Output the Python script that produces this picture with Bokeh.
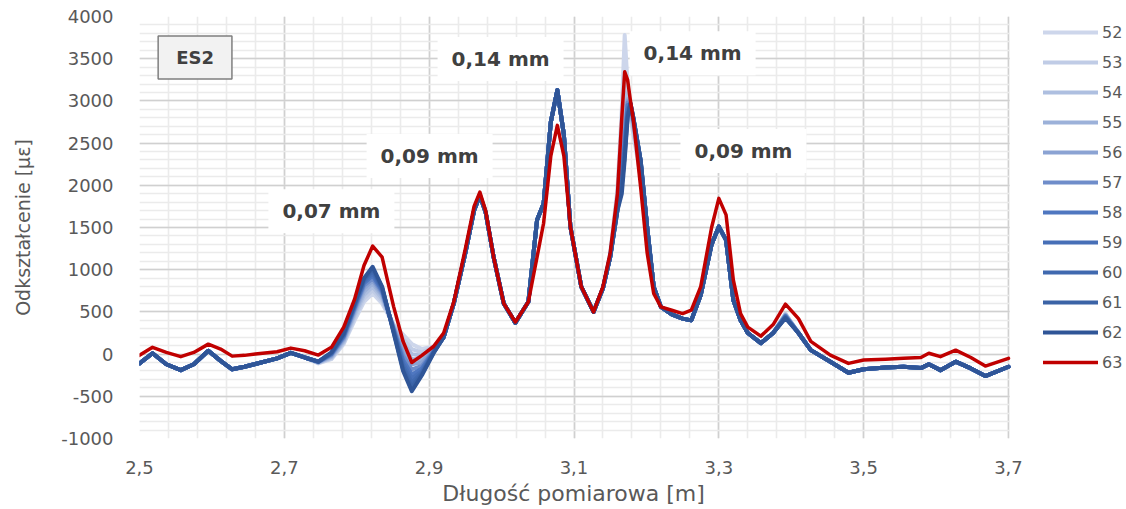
from bokeh.plotting import figure
from bokeh.models import Range1d, FixedTicker, Label, Legend, LegendItem, BoxAnnotation
from bokeh.embed import file_html
from bokeh.resources import INLINE

# measurement position [m]
x = [2.500, 2.518, 2.537, 2.557, 2.575, 2.595, 2.612, 2.628, 2.645, 2.660,
     2.690, 2.709, 2.728, 2.747, 2.765, 2.782, 2.797, 2.810, 2.822, 2.835,
     2.851, 2.864, 2.876, 2.890, 2.906, 2.920, 2.934, 2.950, 2.962, 2.970,
     2.978, 2.989, 3.003, 3.019, 3.037, 3.049, 3.058, 3.068, 3.077, 3.086,
     3.095, 3.110, 3.127, 3.140, 3.150, 3.160, 3.166, 3.170, 3.174, 3.178,
     3.182, 3.192, 3.201, 3.210, 3.220, 3.235, 3.250, 3.262, 3.275, 3.290,
     3.300, 3.310, 3.320, 3.330, 3.340, 3.358, 3.375, 3.392, 3.410, 3.427,
     3.454, 3.479, 3.500, 3.530, 3.555, 3.579, 3.590, 3.606, 3.627, 3.648,
     3.668, 3.700]

# strain [µε] per load step
s52 = [-110, 10, -120, -190, -120, 40, -80, -180, -150, -118, -50, 15, -40,
       -110, -60, 120, 400, 620, 720, 600, 350, 230, 120, 60, 90,
       200, 600, 1200, 1700, 1880, 1680, 1150, 600, 370, 620, 1590, 1780, 2750, 3128, 2600, 1510, 800, 500, 780,
       1200, 1950, 2900, 3780, 3200, 2800, 2600, 2100,
       1510, 800, 560, 470, 420, 400, 700, 1300, 1510, 1350, 640, 400, 250, 130, 250,
       480,
       250, 47, -90, -221, -180, -160, -150, -166, -120, -190, -90, -170, -260, -150]
s53 = [-110, 10, -120, -190, -120, 40, -80, -180, -150, -118, -50, 15, -40,
       -105, -50, 135, 430, 660, 760, 630, 340, 180, 60, 20, 80,
       200, 600, 1200, 1700, 1880, 1680, 1150, 600, 370, 620, 1590, 1780, 2750, 3128, 2600, 1510, 800, 500, 780,
       1180, 1900, 2700, 3300, 3100, 2850, 2650, 2150,
       1510, 800, 560, 470, 420, 400, 700, 1300, 1510, 1350, 640, 400, 250, 130, 250,
       475,
       250, 47, -90, -221, -180, -160, -150, -166, -120, -190, -90, -170, -260, -150]
s54 = [-110, 10, -120, -190, -120, 40, -80, -180, -150, -118, -50, 15, -40,
       -100, -40, 150, 460, 700, 800, 660, 330, 130, 0, -20, 70,
       200, 600, 1200, 1700, 1880, 1680, 1150, 600, 370, 620, 1590, 1780, 2750, 3128, 2600, 1510, 800, 500, 780,
       1170, 1850, 2500, 3100, 3050, 2880, 2700, 2200,
       1510, 800, 560, 470, 420, 400, 700, 1300, 1510, 1350, 640, 400, 250, 130, 250,
       470,
       250, 47, -90, -221, -180, -160, -150, -166, -120, -190, -90, -170, -260, -150]
s55 = [-110, 10, -120, -190, -120, 40, -80, -180, -150, -118, -50, 15, -40,
       -100, -30, 165, 490, 740, 840, 690, 320, 80, -60, -60, 60,
       200, 600, 1200, 1700, 1880, 1680, 1150, 600, 370, 620, 1590, 1780, 2750, 3128, 2600, 1510, 800, 500, 780,
       1160, 1800, 2350, 2900, 3020, 2900, 2720, 2230,
       1510, 800, 560, 470, 420, 400, 700, 1300, 1510, 1350, 640, 400, 250, 130, 250,
       465,
       250, 47, -90, -221, -180, -160, -150, -166, -120, -190, -90, -170, -260, -150]
s56 = [-110, 10, -120, -190, -120, 40, -80, -180, -150, -118, -50, 15, -40,
       -95, -20, 180, 510, 780, 870, 710, 310, 30, -120, -100, 50,
       200, 600, 1200, 1700, 1880, 1680, 1150, 600, 370, 620, 1590, 1780, 2750, 3128, 2600, 1510, 800, 500, 780,
       1155, 1780, 2250, 2700, 3000, 2920, 2740, 2250,
       1510, 800, 560, 470, 420, 400, 700, 1300, 1510, 1350, 640, 400, 250, 130, 250,
       460,
       250, 47, -90, -221, -180, -160, -150, -166, -120, -190, -90, -170, -260, -150]
s57 = [-110, 10, -120, -190, -120, 40, -80, -180, -150, -118, -50, 15, -40,
       -95, -10, 195, 530, 810, 900, 730, 300, -20, -180, -140, 40,
       200, 600, 1200, 1700, 1880, 1680, 1150, 600, 370, 620, 1590, 1780, 2750, 3128, 2600, 1510, 800, 500, 780,
       1150, 1760, 2200, 2600, 2980, 2930, 2760, 2270,
       1510, 800, 560, 470, 420, 400, 700, 1300, 1510, 1350, 640, 400, 250, 130, 250,
       455,
       250, 47, -90, -221, -180, -160, -150, -166, -120, -190, -90, -170, -260, -150]
s58 = [-110, 10, -120, -190, -120, 40, -80, -180, -150, -118, -50, 15, -40,
       -90, 0, 210, 550, 840, 930, 750, 290, -70, -240, -170, 30,
       200, 600, 1200, 1700, 1880, 1680, 1150, 600, 370, 620, 1590, 1780, 2750, 3128, 2600, 1510, 800, 500, 780,
       1150, 1740, 2150, 2500, 2950, 2950, 2780, 2280,
       1510, 800, 560, 470, 420, 400, 700, 1300, 1510, 1350, 640, 400, 250, 130, 250,
       450,
       250, 47, -90, -221, -180, -160, -150, -166, -120, -190, -90, -170, -260, -150]
s59 = [-110, 10, -120, -190, -120, 40, -80, -180, -150, -118, -50, 15, -40,
       -90, 5, 220, 565, 860, 960, 770, 280, -110, -290, -200, 25,
       200, 600, 1200, 1700, 1880, 1680, 1150, 600, 370, 620, 1590, 1780, 2750, 3128, 2600, 1510, 800, 500, 780,
       1150, 1720, 2100, 2450, 2900, 2960, 2790, 2290,
       1510, 800, 560, 470, 420, 400, 700, 1300, 1510, 1350, 640, 400, 250, 130, 250,
       445,
       250, 47, -90, -221, -180, -160, -150, -166, -120, -190, -90, -170, -260, -150]
s60 = [-110, 10, -120, -190, -120, 40, -80, -180, -150, -118, -50, 15, -40,
       -90, 10, 230, 580, 875, 990, 780, 270, -150, -340, -220, 20,
       200, 600, 1200, 1700, 1880, 1680, 1150, 600, 370, 620, 1590, 1780, 2750, 3128, 2600, 1510, 800, 500, 780,
       1150, 1710, 2050, 2400, 2850, 2965, 2800, 2300,
       1510, 800, 560, 470, 420, 400, 700, 1300, 1510, 1350, 640, 400, 250, 130, 250,
       440,
       250, 47, -90, -221, -180, -160, -150, -166, -120, -190, -90, -170, -260, -150]
s61 = [-110, 10, -120, -190, -120, 40, -80, -180, -150, -118, -50, 15, -40,
       -90, 15, 240, 590, 890, 1010, 790, 260, -180, -390, -235, 15,
       200, 600, 1200, 1700, 1880, 1680, 1150, 600, 370, 620, 1590, 1780, 2750, 3128, 2600, 1510, 800, 500, 780,
       1150, 1700, 2000, 2350, 2820, 2970, 2800, 2300,
       1510, 800, 560, 470, 420, 400, 700, 1300, 1510, 1350, 640, 400, 250, 130, 250,
       433,
       250, 47, -90, -221, -180, -160, -150, -166, -120, -190, -90, -170, -260, -150]
s62 = [-110, 10, -120, -190, -120, 40, -80, -180, -150, -118, -50, 15, -40,
       -90, 20, 245, 600, 900, 1035, 800, 250, -200, -440, -250, 10,
       200, 600, 1200, 1700, 1880, 1680, 1150, 600, 370, 620, 1590, 1780, 2750, 3128, 2600, 1510, 800, 500, 780,
       1150, 1700, 1900, 2300, 2800, 2975, 2800, 2300,
       1510, 800, 560, 470, 420, 400, 700, 1300, 1510, 1350, 640, 400, 250, 130, 250,
       426,
       250, 47, -90, -221, -180, -160, -150, -166, -120, -190, -90, -170, -260, -150]
s63 = [-15, 80, 20, -30, 20, 118, 60, -24, -15, 0, 28, 71, 40,
       -12, 80, 320, 650, 1050, 1280, 1150, 560, 150, -100, -15, 90,
       250, 620, 1250, 1750, 1920, 1700, 1150, 600, 380, 620, 1150, 1550, 2350, 2710, 2350, 1510, 800, 500, 800,
       1200, 1900, 2800, 3345, 3250, 3000, 2770, 1980,
       1200, 720, 560, 520, 480, 520, 800, 1500, 1845, 1650, 880, 480, 320, 213, 350,
       592,
       420, 150, -12, -110, -70, -60, -50, -40, 10, -30, 47, -40, -142, -50]

names = ["52", "53", "54", "55", "56", "57", "58", "59", "60", "61", "62", "63"]
series = [s52, s53, s54, s55, s56, s57, s58, s59, s60, s61, s62, s63]
colors = ["#cdd6eb", "#c0cce6", "#aebfe0", "#9cb1d9", "#8ba3d3", "#6f8dca",
          "#4f77c0", "#476fb7", "#4069af", "#3b63a6", "#2f5597", "#c00000"]

x_ticks = [2.5, 2.7, 2.9, 3.1, 3.3, 3.5, 3.7]
x_tick_labels = ["2,5", "2,7", "2,9", "3,1", "3,3", "3,5", "3,7"]
x_minor = [round(2.5 + 0.04 * i, 2) for i in range(31)]
y_ticks = [-1000, -500, 0, 500, 1000, 1500, 2000, 2500, 3000, 3500, 4000]
y_tick_labels = ["-1000", "-500", "0", "500", "1000", "1500", "2000", "2500", "3000", "3500", "4000"]
y_minor = [-1000 + 100 * i for i in range(51)]

annotations = [(2.765, 1694, "0,07 mm"), (2.9006, 2346, "0,09 mm"), (2.9986, 3495, "0,14 mm"),
               (3.2638, 3566, "0,14 mm"), (3.334, 2405, "0,09 mm")]

FONT = "DejaVu Sans"
GREY = "#595959"

X_MIN, X_MAX = 2.5, 3.7
PX_PER_UNIT = 869 / (X_MAX - X_MIN)
LEGEND_SPACE = 118 / PX_PER_UNIT   # room on the right of the data area for the legend

p = figure(frame_width=987, frame_height=422, output_backend="svg", toolbar_location=None,
           x_range=Range1d(X_MIN, X_MAX + LEGEND_SPACE), y_range=Range1d(-1000, 4000),
           min_border_left=139, min_border_right=0, min_border_top=16, min_border_bottom=71)
p.outline_line_color = None
p.background_fill_color = "white"
p.border_fill_color = "white"

p.xaxis.ticker = FixedTicker(ticks=x_ticks, minor_ticks=x_minor)
p.yaxis.ticker = FixedTicker(ticks=y_ticks, minor_ticks=y_minor)
p.xaxis.major_label_overrides = dict(zip(x_ticks, x_tick_labels))
p.yaxis.major_label_overrides = dict(zip(y_ticks, y_tick_labels))

for g in (p.xgrid, p.ygrid):
    g.grid_line_color = "#d0d0d0"
    g.grid_line_width = 1.6
    g.minor_grid_line_color = "#ebebeb"
    g.minor_grid_line_width = 1.6
    g.level = "underlay"

# blank out horizontal grid lines to the right of the data area (legend area)
p.add_layout(BoxAnnotation(left=X_MAX + 1.2 / PX_PER_UNIT, fill_color="white", fill_alpha=1,
                           line_color=None, level="underlay"))

p.axis.axis_line_color = None
p.axis.major_tick_line_color = None
p.axis.minor_tick_line_color = None
p.axis.major_label_text_color = GREY
p.axis.major_label_text_font = FONT
p.axis.major_label_text_font_size = "18px"
p.yaxis.major_label_standoff = 20
p.xaxis.major_label_standoff = 16

# trailing no-break spaces keep the title centred under the data area, not the legend area
p.xaxis.axis_label = "Długość pomiarowa [m]" + "\u00a0" * 17
p.yaxis.axis_label = "Odkształcenie [µε]"
p.axis.axis_label_text_font = FONT
p.axis.axis_label_text_font_style = "normal"
p.axis.axis_label_text_color = GREY
p.xaxis.axis_label_text_font_size = "22px"
p.yaxis.axis_label_text_font_size = "19px"
p.xaxis.axis_label_standoff = 4
p.yaxis.axis_label_standoff = 24

items = []
for name, ys, col in zip(names, series, colors):
    lw = 3.5 if name == "63" else 4
    r = p.line(x, ys, line_color=col, line_width=lw, line_join="round", line_cap="round")
    items.append(LegendItem(label=name, renderers=[r]))

legend = Legend(items=items, location=(904, 66), glyph_width=55, glyph_height=20,
                spacing=10, label_standoff=4, padding=7, margin=0,
                border_line_color=None, background_fill_alpha=0,
                label_text_font=FONT, label_text_font_size="16px", label_text_color=GREY)
p.add_layout(legend, "center")

for ax, ay, txt in annotations:
    p.add_layout(Label(x=ax, y=ay, text=txt, text_align="center", text_baseline="middle",
                       text_font=FONT, text_font_style="bold", text_font_size="20px",
                       text_color="#404040", background_fill_color="white",
                       padding=(14, 14, 10, 10)))

p.add_layout(Label(x=2.5767, y=3513, text="ES2", text_align="center", text_baseline="middle",
                   text_font=FONT, text_font_style="bold", text_font_size="18px",
                   text_color="#404040", background_fill_color="#f2f2f2",
                   border_line_color="#7f7f7f", border_line_width=1.5,
                   padding=(18, 18, 11, 11)))

open("out.html", "w").write(file_html(p, INLINE))
